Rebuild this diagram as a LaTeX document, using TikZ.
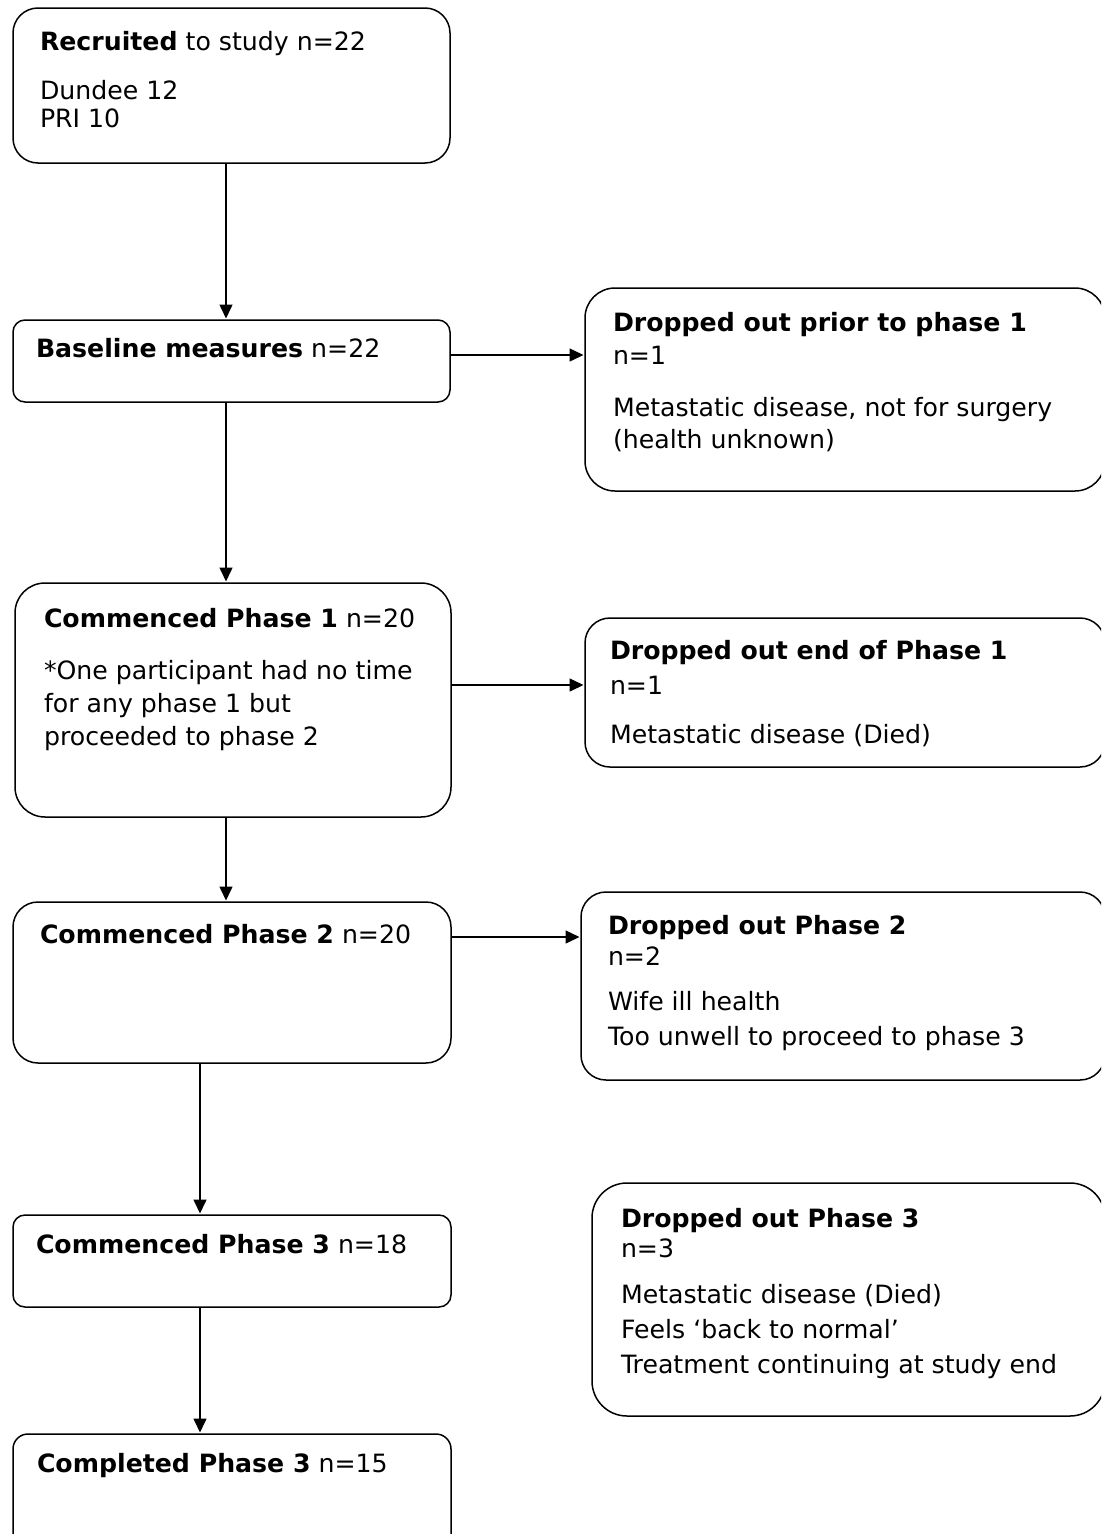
\documentclass[tikz,border=0pt]{standalone}
\usepackage{fontspec}
\setmainfont{DejaVu Sans}
\usetikzlibrary{arrows.meta}
\begin{document}
\begin{tikzpicture}[x=1pt,y=-1pt,
  box/.style={draw, line width=1.5pt, inner sep=0pt, outer sep=0pt, anchor=north west},
  txt/.style={anchor=base west, inner sep=0pt, outer sep=0pt, font=\fontsize{25.2}{30}\selectfont},
  arr/.style={line width=1.5pt, shorten >=1.5pt, -{Triangle[length=14pt,width=13pt]}}]
\useasboundingbox (0,0) rectangle (1101,1534);
\clip (0,0) rectangle (1101,1534);
% boxes
\node[box, rounded corners=25pt, minimum width=437pt, minimum height=155pt] (rec) at (13,8) {};
\node[box, rounded corners=12pt, minimum width=437pt, minimum height=82pt] (base) at (13,320) {};
\node[box, rounded corners=30pt, minimum width=520pt, minimum height=203pt] (dp0) at (585,288) {};
\node[box, rounded corners=30pt, minimum width=436pt, minimum height=234pt] (ph1) at (15,583) {};
\node[box, rounded corners=25pt, minimum width=520pt, minimum height=149pt] (dp1) at (585,618) {};
\node[box, rounded corners=25pt, minimum width=438pt, minimum height=161pt] (ph2) at (13,902) {};
\node[box, rounded corners=25pt, minimum width=524pt, minimum height=188pt] (dp2) at (581,892) {};
\node[box, rounded corners=12pt, minimum width=438pt, minimum height=92pt] (ph3) at (13,1215) {};
\node[box, rounded corners=35pt, minimum width=513pt, minimum height=233pt] (dp3) at (592,1183) {};
\node[box, rounded corners=15pt, minimum width=438pt, minimum height=120pt] (done) at (13,1434) {};
% texts
\node[txt] (t1a) at (40,50) {\textbf{Recruited} to study n=22};
\node[txt] (t1b) at (40,99) {Dundee 12};
\node[txt] (t1c) at (40,127) {PRI 10};
\node[txt] (t2a) at (36,357) {\textbf{Baseline measures} n=22};
\node[txt] (t3a) at (613,331) {\textbf{Dropped out prior to phase 1}};
\node[txt] (t3b) at (613,364) {n=1};
\node[txt] (t3c) at (613,416) {Metastatic disease, not for surgery};
\node[txt] (t3d) at (613,448) {(health unknown)};
\node[txt] (t4a) at (44,627) {\textbf{Commenced Phase 1} n=20};
\node[txt] (t4b) at (44,679) {*One participant had no time};
\node[txt] (t4c) at (44,712) {for any phase 1 but};
\node[txt] (t4d) at (44,745) {proceeded to phase 2};
\node[txt] (t5a) at (610,659) {\textbf{Dropped out end of Phase 1}};
\node[txt] (t5b) at (610,694) {n=1};
\node[txt] (t5c) at (610,743) {Metastatic disease (Died)};
\node[txt] (t6a) at (40,943) {\textbf{Commenced Phase 2} n=20};
\node[txt] (t7a) at (608,934) {\textbf{Dropped out Phase 2}};
\node[txt] (t7b) at (608,965) {n=2};
\node[txt] (t7c) at (608,1010) {Wife ill health};
\node[txt] (t7d) at (608,1045) {Too unwell to proceed to phase 3};
\node[txt] (t8a) at (36,1253) {\textbf{Commenced Phase 3} n=18};
\node[txt] (t9a) at (621,1227) {\textbf{Dropped out Phase 3}};
\node[txt] (t9b) at (621,1257) {n=3};
\node[txt] (t9c) at (621,1303) {Metastatic disease (Died)};
\node[txt] (t9d) at (621,1338) {Feels ‘back to normal’};
\node[txt] (t9e) at (621,1373) {Treatment continuing at study end};
\node[txt] (t10a) at (37,1472) {\textbf{Completed Phase 3} n=15};
% connector guides
\coordinate (xa) at (226,0);
\coordinate (xb) at (200,0);
\coordinate (ya) at (0,355);
\coordinate (yb) at (0,685);
\coordinate (yc) at (0,937);
% connectors
\draw[arr] (rec.south -| xa) -- (base.north -| xa);
\draw[arr] (base.south -| xa) -- (ph1.north -| xa);
\draw[arr] (ph1.south -| xa) -- (ph2.north -| xa);
\draw[arr] (ph2.south -| xb) -- (ph3.north -| xb);
\draw[arr] (ph3.south -| xb) -- (done.north -| xb);
\draw[arr] (base.east |- ya) -- (dp0.west |- ya);
\draw[arr] (ph1.east |- yb) -- (dp1.west |- yb);
\draw[arr] (ph2.east |- yc) -- (dp2.west |- yc);
\end{tikzpicture}
\end{document}
